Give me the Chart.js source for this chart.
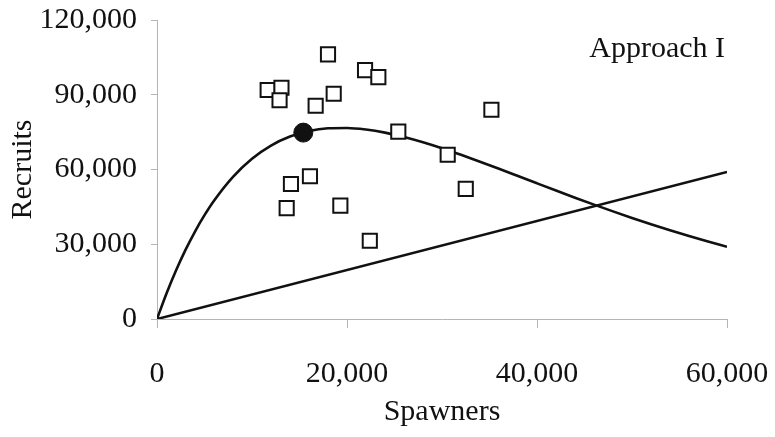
<!DOCTYPE html>
<html>
<head>
<meta charset="utf-8">
<script src="https://cdn.jsdelivr.net/npm/chart.js@4/dist/chart.umd.min.js"></script>
<style>
html,body{margin:0;padding:0;background:#fff;}
#wrap{width:775px;height:437px;position:relative;}
</style>
</head>
<body>
<div id="wrap"><canvas id="c" width="775" height="437"></canvas></div>
<script>
// Observed spawner-recruit pairs
const obsSpawners = [18000, 21900, 23300, 11650, 13100, 12900, 16700, 18600, 35200, 25400, 30600, 32500, 14100, 16100, 13650, 19300, 22400];
const obsRecruits = [106200, 99900, 97100, 91900, 92800, 87800, 85600, 90400, 84000, 75200, 65900, 52200, 54200, 57300, 44500, 45500, 31400];

// Fitted stock-recruit curve
const curveSpawners = [0, 1000, 2000, 3000, 4000, 5000, 6000, 8000, 10000, 12000, 14000, 16000, 18000, 20000, 22000, 24000, 26000, 28000, 30000, 32000, 34000, 36000, 38000, 40000, 42000, 44000, 46000, 48000, 50000, 52000, 54000, 56000, 58000, 60000];
const curveRecruits = [0, 10250, 19470, 27740, 35110, 41680, 47490, 57080, 64340, 69610, 73220, 75450, 76530, 76670, 76040, 74800, 73060, 70940, 68530, 65910, 63140, 60280, 57370, 54450, 51550, 48690, 45900, 43190, 40570, 38040, 35620, 33300, 31090, 28980];

// Replacement line
const lineSpawners = [0, 60000];
const lineRecruits = [0, 59000];

// Highlighted point
const peakSpawners = [15400];
const peakRecruits = [74800];

const xTicks = [0, 20000, 40000, 60000];
const yTicks = [0, 30000, 60000, 90000, 120000];
const annotationText = 'Approach I';

const zip = (xs, ys) => xs.map((x, i) => ({x: x, y: ys[i]}));
const fmt = v => Number(v).toLocaleString('en-US');
const FONT = "'Liberation Serif', 'DejaVu Serif', serif";
const INK = '#111';
const AXIS = '#b5b5b5';

const labelPlugin = {
  id: 'approachLabel',
  afterDraw(chart) {
    const ctx = chart.ctx;
    const a = chart.chartArea;
    ctx.save();
    ctx.font = '30px ' + FONT;
    ctx.fillStyle = INK;
    ctx.textAlign = 'right';
    ctx.textBaseline = 'alphabetic';
    ctx.fillText(annotationText, a.right - 2, a.top + 37);
    ctx.restore();
  }
};

new Chart(document.getElementById('c'), {
  type: 'scatter',
  data: {
    datasets: [
      {
        label: 'Curve',
        data: zip(curveSpawners, curveRecruits),
        showLine: true,
        borderColor: INK,
        borderWidth: 2.6,
        pointRadius: 0,
        cubicInterpolationMode: 'monotone',
        fill: false,
        order: 3
      },
      {
        label: 'Replacement',
        data: zip(lineSpawners, lineRecruits),
        showLine: true,
        borderColor: INK,
        borderWidth: 2.6,
        pointRadius: 0,
        fill: false,
        order: 3
      },
      {
        label: 'Observed',
        data: zip(obsSpawners, obsRecruits),
        pointStyle: 'rect',
        pointRadius: 10,
        pointBorderWidth: 2,
        pointBorderColor: INK,
        pointBackgroundColor: '#fff',
        order: 2
      },
      {
        label: 'Peak',
        data: zip(peakSpawners, peakRecruits),
        pointStyle: 'circle',
        pointRadius: 9.5,
        pointBorderWidth: 1,
        pointBorderColor: INK,
        pointBackgroundColor: INK,
        order: 1
      }
    ]
  },
  options: {
    responsive: false,
    animation: false,
    devicePixelRatio: 1,
    layout: { padding: { left: 0, right: 48, top: 20, bottom: 0 } },
    plugins: {
      legend: { display: false },
      tooltip: { enabled: false }
    },
    scales: {
      x: {
        type: 'linear',
        min: 0,
        max: 60000,
        afterBuildTicks: s => { s.ticks = xTicks.map(v => ({value: v})); },
        afterFit: s => { s.height = 118; s.paddingLeft = 0; s.paddingRight = 0; },
        ticks: {
          callback: v => fmt(v),
          color: INK,
          font: { family: FONT, size: 30 },
          padding: 28,
          maxRotation: 0
        },
        grid: { drawOnChartArea: false, drawTicks: true, tickLength: 9, color: AXIS, lineWidth: 1 },
        border: { display: true, color: AXIS, width: 1 },
        title: {
          display: true,
          text: 'Spawners',
          color: INK,
          font: { family: FONT, size: 30 },
          padding: { top: 0, bottom: 7 }
        }
      },
      y: {
        type: 'linear',
        min: 0,
        max: 120000,
        afterBuildTicks: s => { s.ticks = yTicks.map(v => ({value: v})); },
        afterFit: s => { s.width = 157; s.paddingTop = 0; s.paddingBottom = 0; },
        ticks: {
          callback: v => fmt(v),
          color: INK,
          font: { family: FONT, size: 30 },
          padding: 14
        },
        grid: { drawOnChartArea: false, drawTicks: true, tickLength: 6, color: AXIS, lineWidth: 1 },
        border: { display: true, color: AXIS, width: 1 },
        title: {
          display: true,
          text: 'Recruits',
          color: INK,
          font: { family: FONT, size: 30 },
          padding: { top: 5, bottom: 0 }
        }
      }
    }
  },
  plugins: [labelPlugin]
});
</script>
</body>
</html>
